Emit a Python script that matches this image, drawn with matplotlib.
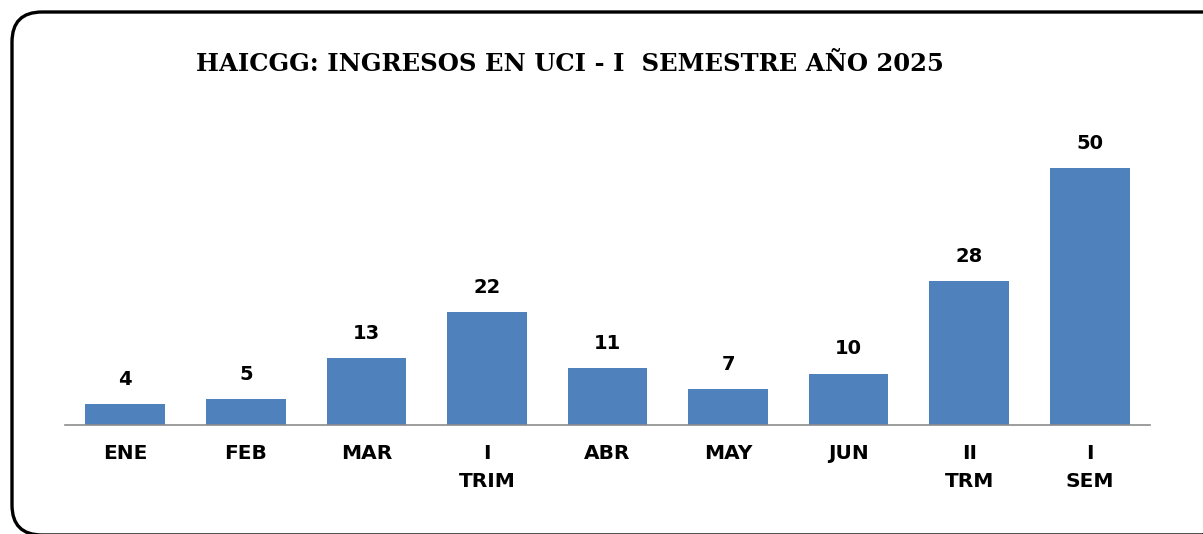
import matplotlib
matplotlib.use("Agg")
import matplotlib.pyplot as plt
from matplotlib.patches import FancyBboxPatch

# data
categories = ["ENE", "FEB", "MAR", "I\nTRIM", "ABR", "MAY", "JUN", "II\nTRM", "I\nSEM"]
ingresos = [4, 5, 13, 22, 11, 7, 10, 28, 50]

W, H = 1203, 534
fig = plt.figure(figsize=(W / 100, H / 100), dpi=100)

# background axes in pixel units for the rounded frame (cut off at right/bottom)
bg = fig.add_axes([0, 0, 1, 1])
bg.set_xlim(0, W)
bg.set_ylim(H, 0)
bg.axis("off")
bg.add_patch(FancyBboxPatch((12, 12), 1232 - 12, 535 - 12,
                            boxstyle="round,pad=0,rounding_size=30",
                            facecolor="none", edgecolor="black", linewidth=2.4))

ax = fig.add_axes([65 / W, (H - 425) / H, 1085 / W, (425 - 116.6) / H])
x = range(len(categories))
bars = ax.bar(x, ingresos, width=0.66, color="#4F81BD")
ax.set_xlim(-0.5, len(categories) - 0.5)
ax.set_ylim(0, 60)

for b, v in zip(bars, ingresos):
    ax.annotate(str(v), (b.get_x() + b.get_width() / 2, v), xytext=(0, 11),
                textcoords="offset points", ha="center", va="bottom",
                fontsize=14, fontweight="bold", color="black")

ax.set_xticks(list(x))
ax.set_xticklabels(categories, fontsize=14.5, fontweight="bold", linespacing=1.6)
ax.tick_params(axis="x", length=0, pad=14)
ax.set_yticks([])
for s in ["top", "right", "left"]:
    ax.spines[s].set_visible(False)
ax.spines["bottom"].set_color("#8c8c8c")
ax.spines["bottom"].set_linewidth(1.2)

fig.text(570 / W, 1 - 64 / H, "HAICGG: INGRESOS EN UCI - I  SEMESTRE AÑO 2025",
         ha="center", va="center", fontsize=17.5, fontweight="bold",
         family="DejaVu Serif")

fig.savefig("out.png", dpi=100)
